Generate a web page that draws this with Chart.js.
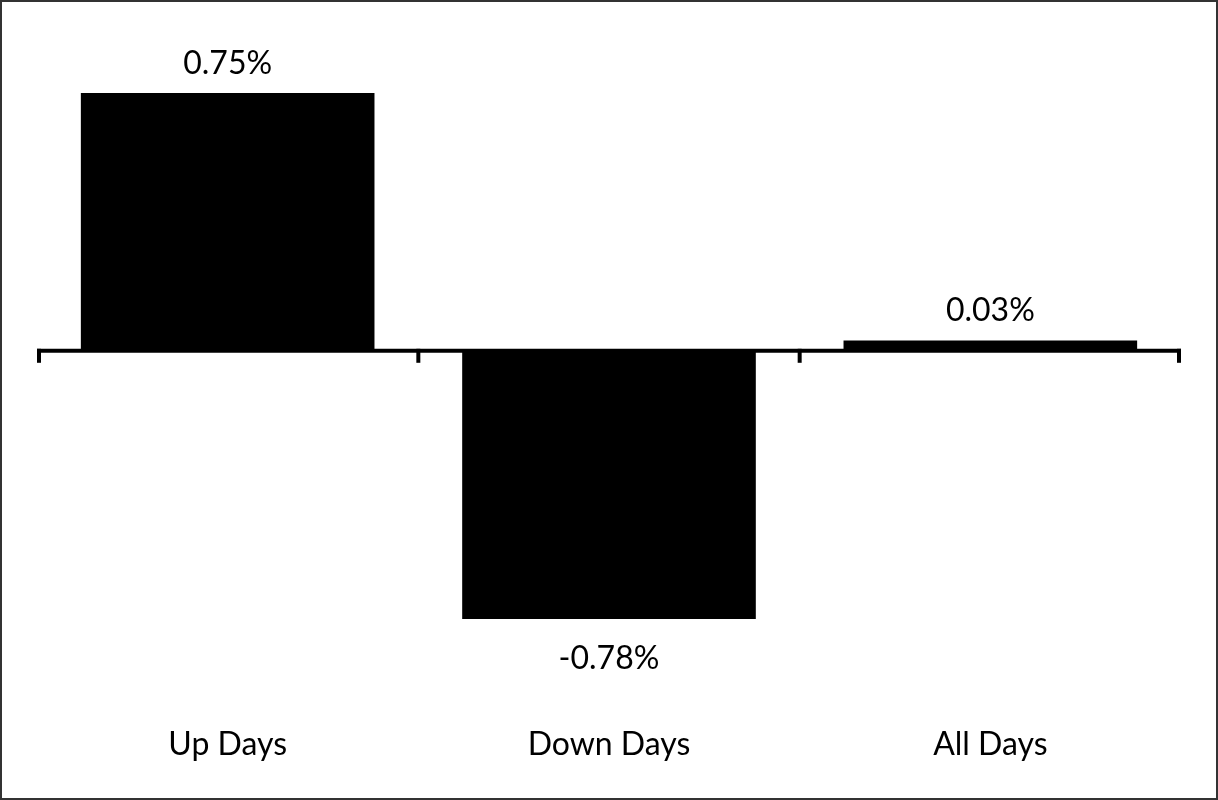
<!DOCTYPE html>
<html>
<head>
<meta charset="utf-8">
<script src="https://cdn.jsdelivr.net/npm/chart.js@4/dist/chart.umd.min.js"></script>
<style>
  html, body { margin: 0; padding: 0; background: #fff; }
  .frame {
    width: 1218px; height: 800px; box-sizing: border-box;
    border: 2px solid #333; background: #fff; position: relative;
  }
  .frame canvas { display: block; }
</style>
</head>
<body>
<div class="frame">
  <canvas id="chartDays" width="1214" height="796"></canvas>
</div>
<script>
/* average daily move, split by day type */
const categories = ['Up Days', 'Down Days', 'All Days'];
const dayValues = [0.75, -0.78, 0.03];
const yRange = [-1, 1];

const FONT = 'Lato, "Open Sans", sans-serif';
const FONT_SIZE = 32;

// zero line with tick marks at category edges, drawn off the chart scales
const zeroAxis = {
  id: 'zeroAxis',
  afterDatasetsDraw(chart) {
    const { ctx, scales: { x, y } } = chart;
    const y0 = y.getPixelForValue(0);
    ctx.save();
    ctx.strokeStyle = '#000';
    ctx.lineWidth = 4;
    ctx.beginPath();
    ctx.moveTo(x.left, y0);
    ctx.lineTo(x.right, y0);
    ctx.stroke();
    for (let i = 0; i <= categories.length; i++) {
      let px = x.getPixelForValue(i - 0.5);
      if (i === 0) px += 2;
      if (i === categories.length) px -= 2;
      ctx.beginPath();
      ctx.moveTo(px, y0 - 2);
      ctx.lineTo(px, y0 + 12);
      ctx.stroke();
    }
    ctx.restore();
  }
};

// value labels above / below each bar
const barValues = {
  id: 'barValues',
  afterDatasetsDraw(chart) {
    const { ctx } = chart;
    const meta = chart.getDatasetMeta(0);
    ctx.save();
    ctx.fillStyle = '#000';
    ctx.font = FONT_SIZE + 'px ' + FONT;
    ctx.textAlign = 'center';
    ctx.textBaseline = 'alphabetic';
    meta.data.forEach((bar, i) => {
      const v = dayValues[i];
      const txt = v.toFixed(2) + '%';
      const ty = v >= 0 ? bar.y - 19 : bar.y + 50;
      ctx.fillText(txt, bar.x, ty);
    });
    ctx.restore();
  }
};

new Chart(document.getElementById('chartDays'), {
  type: 'bar',
  data: {
    labels: categories,
    datasets: [{
      data: dayValues,
      backgroundColor: '#000',
      borderWidth: 0,
      categoryPercentage: 1,
      barPercentage: 0.77,
    }],
  },
  options: {
    responsive: false,
    animation: false,
    devicePixelRatio: 1,
    layout: { padding: { left: 35, right: 35, top: 5, bottom: 3 } },
    plugins: { legend: { display: false }, tooltip: { enabled: false } },
    scales: {
      x: {
        grid: { display: false, drawTicks: false },
        border: { display: false },
        ticks: { color: '#000', padding: 31, font: { family: FONT, size: FONT_SIZE } },
      },
      y: { display: false, min: yRange[0], max: yRange[1] },
    },
  },
  plugins: [zeroAxis, barValues],
});
</script>
</body>
</html>
